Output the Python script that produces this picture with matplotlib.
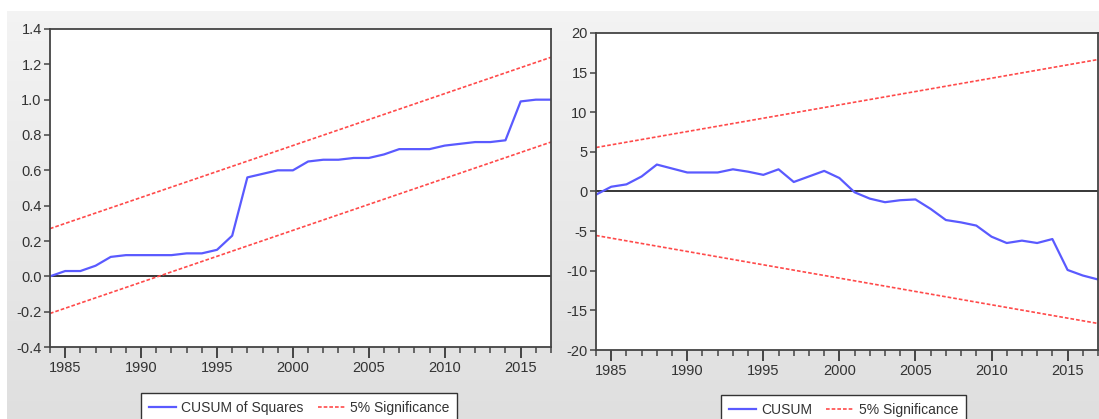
import numpy as np
import matplotlib
matplotlib.use("Agg")
import matplotlib.pyplot as plt
from matplotlib.ticker import MultipleLocator

plt.rcParams["font.family"] = ["Liberation Sans", "DejaVu Sans"]
plt.rcParams["axes.unicode_minus"] = False

# ---------------------------------------------------------------------------
# Data
# ---------------------------------------------------------------------------
years = list(range(1984, 2018))

cusum_sq = [0.00, 0.03, 0.03, 0.06, 0.11, 0.12, 0.12, 0.12, 0.12, 0.13,
            0.13, 0.15, 0.23, 0.56, 0.58, 0.60, 0.60, 0.65, 0.66, 0.66,
            0.67, 0.67, 0.69, 0.72, 0.72, 0.72, 0.74, 0.75, 0.76, 0.76,
            0.77, 0.99, 1.00, 1.00]
sq_bound_years = [1984, 2017]
sq_upper = [0.27, 1.24]
sq_lower = [-0.21, 0.76]

cusum = [-0.4, 0.6, 0.9, 1.9, 3.4, 2.9, 2.4, 2.4, 2.4, 2.8,
         2.5, 2.1, 2.8, 1.2, 1.9, 2.6, 1.7, -0.1, -0.9, -1.35,
         -1.1, -1.0, -2.2, -3.6, -3.9, -4.3, -5.7, -6.5, -6.2, -6.5,
         -6.0, -9.9, -10.6, -11.1]
cu_bound_years = [1984, 2017]
cu_upper = [5.55, 16.65]
cu_lower = [-5.55, -16.65]

# ---------------------------------------------------------------------------
# Styling
# ---------------------------------------------------------------------------
BLUE = "#5a5aff"
RED = "#ff4a4a"
TEXT = "#333333"
SPINE = "#444444"
W, H = 1099, 419
TICK_FS = 10.5
LEG_FS = 10


def style_axes(ax, ylim, ystep):
    ax.set_xlim(1984, 2017)
    ax.set_ylim(*ylim)
    ax.yaxis.set_major_locator(MultipleLocator(ystep))
    ax.xaxis.set_minor_locator(MultipleLocator(1))
    ax.set_xticks([1985, 1990, 1995, 2000, 2005, 2010, 2015])
    ax.tick_params(axis="y", direction="out", length=4.5, width=1.1,
                   color=SPINE, labelsize=TICK_FS, labelcolor=TEXT, pad=1.5)
    ax.tick_params(axis="x", which="major", direction="out", length=8,
                   width=1.4, color=SPINE, labelsize=TICK_FS, labelcolor=TEXT,
                   pad=2)
    ax.tick_params(axis="x", which="minor", direction="out", length=4,
                   width=1.1, color=SPINE)
    for s in ax.spines.values():
        s.set_color(SPINE)
        s.set_linewidth(1.3)
    ax.set_facecolor("white")
    ax.axhline(0, color="black", lw=1.1, zorder=1)


def add_legend(fig, handles, x_px, y_px):
    leg = fig.legend(handles=handles, loc="upper left",
                     bbox_to_anchor=(x_px / W, (H - y_px) / H), ncol=2,
                     fontsize=LEG_FS, frameon=True, fancybox=False,
                     edgecolor="#333333", framealpha=1, handlelength=2.0,
                     columnspacing=1.0, borderpad=0.55, handletextpad=0.35,
                     borderaxespad=0)
    leg.get_frame().set_linewidth(1.0)
    for t in leg.get_texts():
        t.set_color(TEXT)
    return leg


def main():
    fig = plt.figure(figsize=(W / 100, H / 100), dpi=100)
    fig.patch.set_facecolor("white")

    # gray panel background (light at top, darker at bottom)
    bg = fig.add_axes([7 / W, 0, 1 - 7 / W, (H - 11) / H], zorder=-5)
    grad = np.linspace(0.955, 0.875, 200).reshape(-1, 1)
    bg.imshow(np.dstack([grad, grad, grad]), aspect="auto",
              extent=[0, 1, 0, 1], origin="upper")
    bg.axis("off")

    # left: CUSUM of squares
    ax1 = fig.add_axes([50 / W, (H - 347) / H, 501 / W, 318 / H])
    style_axes(ax1, (-0.4, 1.4), 0.2)
    ax1.yaxis.set_major_formatter(lambda v, p: f"{v:.1f}")
    l1, = ax1.plot(years, cusum_sq, color=BLUE, lw=1.6, label="CUSUM of Squares")
    l2, = ax1.plot(sq_bound_years, sq_upper, color=RED, lw=1.2,
                   dashes=(2.2, 1.2), label="5% Significance")
    ax1.plot(sq_bound_years, sq_lower, color=RED, lw=1.2, dashes=(2.2, 1.2))
    add_legend(fig, [l1, l2], 141, 393)

    # right: CUSUM
    ax2 = fig.add_axes([596 / W, (H - 350) / H, 502 / W, 317 / H])
    style_axes(ax2, (-20, 20), 5)
    l3, = ax2.plot(years, cusum, color=BLUE, lw=1.6, label="CUSUM")
    l4, = ax2.plot(cu_bound_years, cu_upper, color=RED, lw=1.2,
                   dashes=(2.2, 1.2), label="5% Significance")
    ax2.plot(cu_bound_years, cu_lower, color=RED, lw=1.2, dashes=(2.2, 1.2))
    add_legend(fig, [l3, l4], 721, 395)

    fig.savefig("out.png", dpi=100)
    plt.close(fig)


if __name__ == "__main__":
    main()
